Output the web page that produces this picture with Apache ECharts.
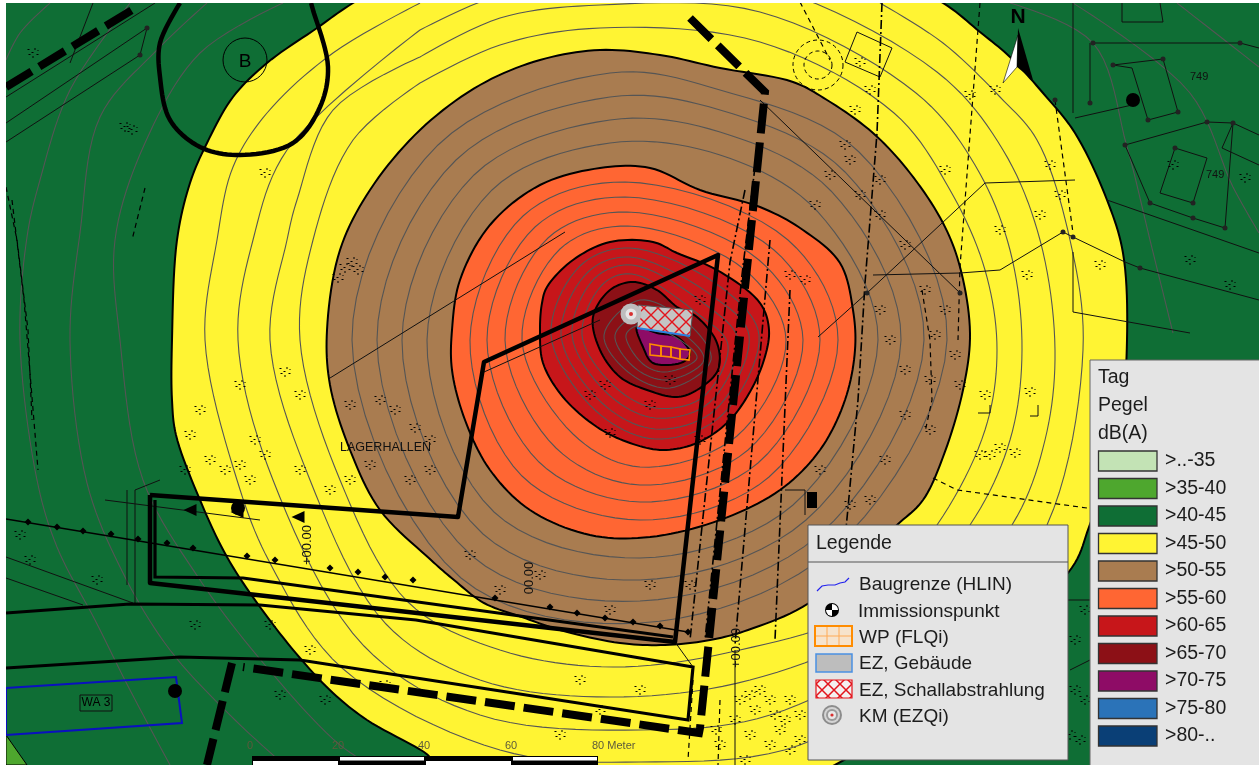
<!DOCTYPE html>
<html><head><meta charset="utf-8">
<style>html,body{margin:0;padding:0;background:#fff}#c{width:1259px;height:765px}</style>
<script src="https://cdn.jsdelivr.net/npm/echarts@6/dist/echarts.min.js"></script>
</head><body><div id="c"></div>
<script>
// ---- level bands (map coordinates) ----
const band40 = [[6,3],[1259,3],[1259,765],[6,765]];
const band35 = [[6,735],[27,765],[6,765]];
const band45 = [[353,3],[450,-50],[650,-70],[850,-40],[943,3],[980,32],[1010,57],[1043,93],[1075,133],[1107,200],[1123,253],[1127,340],[1120,420],[1089,527],[1068,573],[835,765],[640,810],[440,765],[424,752],[367,720],[333,693],[300,658],[260,607],[227,557],[200,500],[176,435],[172,400],[172,340],[177,240],[190,183],[207,143],[233,97],[267,63],[317,28]];
const band50 = [[600,50],[660,55],[720,68],[793,82],[827,100],[873,133],[910,173],[943,223],[960,267],[970,333],[963,390],[943,457],[923,500],[897,525],[809,603],[748,630],[710,640],[665,645],[620,643],[560,630],[522,617],[484,603],[454,580],[431,560],[380,510],[350,450],[330,385],[327,330],[340,250],[370,190],[420,130],[480,85],[540,60]];
const band55 = [[600,168],[650,168],[700,190],[760,207],[803,230],[840,263],[853,310],[855,350],[845,400],[820,450],[780,490],[720,520],[650,537],[590,535],[530,510],[490,470],[465,420],[452,370],[452,330],[460,280],[490,225],[540,185]];
const band60 = [[547,287],[573,260],[610,242],[653,242],[677,253],[717,270],[760,303],[769,330],[763,363],[747,397],[727,423],[697,443],[663,450],[630,443],[597,427],[563,397],[543,363],[540,330],[542,303]];
const band65 = [[593,317],[610,290],[633,282],[657,290],[677,307],[697,317],[717,343],[718,370],[697,390],[677,397],[647,390],[620,377],[600,350]];
const band70 = [[637,327],[643,347],[653,363],[683,362],[690,353],[677,337],[657,333]];
// ---- one-level isolines ----
const isoInner = [
 [[610,73],[720,90],[859,152],[947,340],[832,550],[640,623],[461,578],[352,340],[438,145]],
 [[610,97],[720,110],[845,172],[924,340],[819,535],[640,601],[472,556],[377,340],[456,160]],
 [[610,120],[720,132],[831,191],[901,340],[806,520],[640,580],[483,534],[402,340],[474,175]],
 [[610,143],[720,155],[817,211],[878,340],[793,505],[640,558],[494,512],[427,340],[492,190]],
 [[625,182],[788,240],[838,340],[769,477],[640,520],[522,476],[470,340],[523,216]],
 [[625,197],[774,250],[820,340],[758,463],[640,502],[539,462],[487,340],[535,227]],
 [[627,212],[759,260],[803,340],[748,450],[640,485],[556,448],[505,340],[548,238]],
 [[628,226],[745,270],[786,340],[737,436],[640,467],[573,434],[522,340],[560,249]],
 [[630,248],[722,288],[759,335],[721,416],[655,439],[596,411],[551,335],[580,266]],
 [[630,257],[714,297],[749,335],[715,410],[655,429],[602,403],[561,335],[588,272]],
 [[632,265],[706,305],[738,340],[709,403],[655,418],[608,394],[572,335],[595,278]],
 [[632,274],[698,314],[728,345],[703,397],[655,408],[614,386],[582,335],[603,284]],
 [[640,300],[690,325],[711,360],[670,388],[628,372],[604,335]],
 [[640,315],[685,335],[704,360],[668,380],[635,368],[615,335]],
 [[640,325],[680,340],[697,358],[665,372],[643,364],[626,335]]
];
const isoOpen = [
 [[420,83],[500,45],[600,28],[760,42],[894,113],[950,190],[985,270],[997,350],[985,430],[937,525],[860,610],[740,650],[613,667],[500,650],[408,602],[340,480],[300,340],[313,240],[353,140],[420,83]],
 [[420,57],[500,18],[600,5],[760,12],[916,93],[975,165],[1010,250],[1022,350],[1010,440],[970,525],[880,625],[750,680],[610,697],[480,680],[386,624],[310,480],[270,340],[287,240],[297,200],[333,110],[420,57]],
 [[420,30],[500,-5],[600,-18],[760,-15],[937,72],[1003,150],[1040,240],[1055,350],[1045,440],[1012,525],[910,640],[770,715],[640,730],[480,715],[364,646],[273,480],[238,340],[253,240],[287,150],[420,30]],
 [[420,3],[333,53],[267,113],[233,167],[217,240],[205,340],[237,480],[270,563],[342,668],[500,750],[640,762],[800,745],[960,640],[1047,525],[1083,350],[1070,240],[1037,140],[1000,97],[943,43],[880,3]],
 [[283,3],[200,53],[145,143],[115,240],[120,340],[143,480],[200,580],[265,665],[340,745],[380,770]],
 [[207,3],[157,50],[100,117],[80,233],[70,340],[87,483],[123,573],[170,650],[235,720],[290,770]],
 [[130,3],[70,90],[40,180],[27,237],[20,340],[37,480],[57,547],[95,620],[130,690],[170,765]],
 [[50,3],[20,33],[6,60]],
 [[1010,3],[1093,43],[1127,147],[1150,240],[1173,333]],
 [[1073,3],[1190,93],[1233,187],[1259,233]],
 [[1177,3],[1259,67]]
];
// ---- site plan linework ----
const heavyDashed = [
 [[6,87],[137,7]],
 [[690,18],[765,92],[700,728],[699,733],[243,667]],
 [[232,663],[207,765]]
];
const heavySolid = [
 [[150,495],[458,517],[484,362],[718,255],[675,642],[150,583],[150,495]]
];
const loopB = [[180,3],[160,43],[160,77],[170,120],[200,147],[240,155],[293,143],[320,107],[328,67],[313,10],[311,3]];
const mediumSolid = [
 [[6,613],[130,604],[260,605],[416,620],[693,667],[688,720],[300,660],[180,657],[6,668]],
 [[155,500],[155,577],[243,578],[673,637]]
];
const thinLines = [
 [[330,378],[565,232]],[[484,372],[600,320]],[[6,97],[155,3]],[[6,123],[147,28],[140,55],[6,142]],[[93,3],[70,63]],
 [[127,490],[127,585]],[[135,490],[135,603]],[[6,557],[133,603]],[[6,578],[83,605]],
 [[135,490],[160,480]],[[105,500],[260,520]],
 [[760,100],[960,293]],[[985,183],[1075,180]],[[985,183],[867,293],[818,337]],
 [[873,275],[960,273],[1000,270],[1063,232],[1073,237],[1125,262],[1140,268],[1259,300]],
 [[1073,252],[1073,312],[1190,333]],[[1107,200],[1259,253]],[[1073,3],[1073,113]],
 [[1093,43],[1240,43],[1259,48]],[[1090,43],[1090,103]],[[1075,118],[1132,105]],
 [[1113,65],[1163,59],[1178,112],[1148,120],[1132,68],[1113,65]],
 [[1125,145],[1207,122],[1233,123],[1259,135]],[[1233,123],[1222,148],[1259,165]],
 [[1175,148],[1160,193],[1193,203],[1207,158],[1175,148]],[[1125,145],[1150,203],[1193,218],[1225,228],[1233,123]],
 [[1122,3],[1122,22],[1163,22],[1160,3]],
 [[857,32],[892,48],[880,77],[845,62],[857,32]],
 [[675,642],[693,667]],[[735,650],[735,765]],[[785,490],[805,490],[805,515]],
 [[978,413],[990,413],[990,405]],[[1030,416],[1038,416],[1038,405]],
 [[1068,600],[1090,600]],[[1070,670],[1090,660]]
];
const dashedLines = [
 [[980,3],[960,267],[958,340]],[[1055,100],[1073,233]],[[933,478],[957,490],[1087,508]],
 [[145,188],[132,240]],[[6,187],[17,240],[28,330],[32,420]],[[12,200],[24,300],[38,470]],
 [[800,2],[830,60]],[[693,680],[688,760]],[[720,700],[718,765]],
 [[922,290],[930,340],[932,400],[925,432]]
];
const dashDotLines = [
 [[882,3],[877,133],[865,283],[858,400],[845,540]],
 [[745,190],[730,262],[690,640]],[[757,150],[742,275],[705,640]],[[770,240],[735,645]],
 [[790,290],[775,640]]
];
const chainPts = [[28,522],[57,527],[83,531],[111,534],[138,539],[167,543],[193,548],[247,556],[275,560],[330,568],[358,572],[385,577],[413,580],[495,598],[550,607],[577,613],[605,618],[633,622],[660,626],[688,632]];
const chainLine = [[6,519],[688,632]];
const nodePts = [[147,28],[140,55],[1093,43],[1240,43],[1090,103],[1113,65],[1163,59],[1178,112],[1148,120],[1125,145],[1207,122],[1233,123],[1175,148],[1193,203],[1150,203],[1193,218],[1225,228],[1140,268],[1063,232],[1073,237],[1055,100],[960,293],[867,293]];
const arrowPts = [[190,510],[237,512],[298,517]];
const blockPts = [[812,500]];
const specks = [[33,53],[125,127],[132,130],[265,173],[345,268],[352,262],[358,270],[338,278],[240,385],[285,372],[300,395],[350,405],[380,400],[395,410],[415,428],[430,440],[265,455],[255,440],[200,410],[190,435],[185,470],[210,460],[225,470],[240,465],[250,480],[300,470],[330,490],[350,480],[370,465],[410,480],[430,470],[30,560],[20,535],[97,580],[195,625],[270,625],[310,650],[280,695],[325,700],[385,685],[470,555],[500,590],[540,575],[610,610],[650,585],[690,585],[580,680],[640,690],[600,710],[560,735],[740,700],[750,695],[755,710],[760,690],[770,700],[775,715],[785,720],[790,700],[800,715],[735,720],[750,735],[770,745],[780,730],[790,750],[800,740],[720,745],[745,760],[716,730],[860,62],[870,90],[855,110],[850,160],[860,195],[880,215],[905,245],[945,170],[970,95],[995,90],[1050,165],[1060,195],[1100,265],[1040,215],[1000,230],[1027,275],[960,385],[985,395],[1030,392],[980,455],[990,455],[1000,448],[1015,453],[880,180],[845,145],[830,175],[815,205],[790,275],[805,280],[880,310],[890,340],[905,370],[925,290],[945,310],[935,335],[955,355],[930,380],[905,415],[930,430],[885,460],[870,500],[820,470],[850,505],[700,300],[605,385],[670,380],[650,405],[590,395],[610,433],[700,440],[1100,725],[1075,690],[1080,740],[1070,735],[1085,700],[1075,640],[1085,610],[1173,165],[1245,178],[1190,260],[1230,285]];
const scaleTicks = ['0','20','40','60','80 Meter'];
const levelLabels = ['>..-35','>35-40','>40-45','>45-50','>50-55','>55-60','>60-65','>65-70','>70-75','>75-80','>80-..'];
const legendItems = ['Baugrenze (HLIN)','Immissionspunkt','WP (FLQi)','EZ, Gebäude','EZ, Schallabstrahlung','KM (EZQi)'];
const building = [[638,305],[693,310],[690,336],[637,328]];
const buildingBlue = [[637,328],[690,336]];
const wpCells = [[[650,344],[661,346],[661,356],[650,355]],[[661,346],[671,347],[671,357],[661,356]],[[671,347],[680,349],[680,359],[671,357]],[[680,349],[690,350],[689,360],[680,359]]];
const kmPoint = [[631,314]];
const immission = [[1133,100],[238,508],[175,691]];
const northWhite = [[1018,35],[1003,83],[1017,67]];
const northBlack = [[1018,28],[1033,80],[1017,67]];
const blueRect = [[6,688],[176,677],[182,723],[6,735]];

// ---- styles ----
const C = ['#c3e3b5','#4ea72e','#0f6e35','#fff433','#a97c50','#ff6633','#c7161a','#8c1016','#8e0c66','#2b73b8','#0a3f76'];
const FONT = '"Liberation Sans", Arial, sans-serif';
const SPECK = 'path://M0 1h2v1h-2z M4 4h2v1h-2z M7 0h1v2h-1z M1 6h2v1h-2z M9 6h2v1h-2z M5 8h1v2h-1z M10 2h1v1h-1z';

function hatch(){
  const c = document.createElement('canvas'); c.width = 14; c.height = 14;
  const g = c.getContext('2d');
  g.fillStyle = '#c4c4c4'; g.fillRect(0,0,14,14);
  g.strokeStyle = '#e3141c'; g.lineWidth = 1.4;
  g.beginPath(); g.moveTo(0,0); g.lineTo(14,14); g.moveTo(14,0); g.lineTo(0,14); g.stroke();
  return {image:c, repeat:'repeat'};
}
function hatch2(){
  const c = document.createElement('canvas'); c.width = 12; c.height = 12;
  const g = c.getContext('2d');
  g.fillStyle = '#f4f0f0'; g.fillRect(0,0,12,12);
  g.strokeStyle = '#e3141c'; g.lineWidth = 1.5;
  g.beginPath(); g.moveTo(0,0); g.lineTo(12,12); g.moveTo(12,0); g.lineTo(0,12); g.stroke();
  return {image:c, repeat:'repeat'};
}
// curve through the given pixel points (same role as a line's "smooth")
function curve(P, closed){
  const n = P.length, out = [], segs = closed ? n : n-1;
  const at = i => closed ? P[(i+n)%n] : P[Math.max(0,Math.min(n-1,i))];
  const dist = (a,b)=>Math.sqrt(Math.hypot(a[0]-b[0],a[1]-b[1]))||1e-3;
  for(let i=0;i<segs;i++){
    const p0=at(i-1),p1=at(i),p2=at(i+1),p3=at(i+2);
    const d0=dist(p0,p1),d1=dist(p1,p2),d2=dist(p2,p3);
    const t=[0,1].map(k=>((p1[k]-p0[k])/d0-(p2[k]-p0[k])/(d0+d1)+(p2[k]-p1[k])/d1)*d1);
    const u=[0,1].map(k=>((p2[k]-p1[k])/d1-(p3[k]-p1[k])/(d1+d2)+(p3[k]-p2[k])/d2)*d1);
    for(let s=0;s<10;s++){
      const a=s/10,a2=a*a,a3=a2*a;
      out.push([0,1].map(k=>(2*a3-3*a2+1)*p1[k]+(a3-2*a2+a)*t[k]+(-2*a3+3*a2)*p2[k]+(a3-a2)*u[k]));
    }
  }
  if(!closed) out.push(P[n-1]);
  return out;
}
function shapes(list, type, style, smooth){
  return {type:'custom', coordinateSystem:'cartesian2d', clip:true, silent:true, animation:false, progressive:0,
    data:list.map((_,i)=>[i,i]),
    renderItem(p, api){
      let pts = list[p.dataIndex].map(q=>api.coord(q));
      if(smooth) pts = curve(pts, type==='polygon');
      const st = Object.assign({}, type==='polyline'?{fill:null}:{}, style);
      return {type, shape:{points:pts}, style:st};
    }};
}
const band = (pts,color)=>shapes([pts],'polygon',{fill:color,stroke:'#000',lineWidth:2},true);
const dots = (pts,symbol,size,color,rot)=>({type:'scatter',data:pts,symbol,symbolSize:size,symbolRotate:rot||0,silent:true,animation:false,itemStyle:{color,opacity:1},clip:true});

const series = [
  shapes([band40],'polygon',{fill:C[2]}),
  shapes([band35],'polygon',{fill:C[1],stroke:'#000',lineWidth:1}),
  band(band45,C[3]),
  band(band50,C[4]),
  band(band55,C[5]),
  band(band60,C[6]),
  band(band65,C[7]),
  band(band70,C[8]),
  shapes(isoOpen,'polyline',{stroke:'#555',lineWidth:1.1},true),
  shapes(isoInner,'polygon',{fill:'none',stroke:'#555',lineWidth:1.1},true),
  shapes(thinLines,'polyline',{stroke:'#111',lineWidth:1}),
  shapes(dashedLines,'polyline',{stroke:'#000',lineWidth:1.2,lineDash:[5,4]}),
  shapes(dashDotLines,'polyline',{stroke:'#000',lineWidth:1.6,lineDash:[9,3,2,3]}),
  shapes([chainLine],'polyline',{stroke:'#000',lineWidth:1.3}),
  dots(chainPts,'diamond',7,'#000'),
  dots(nodePts,'circle',5,'#222'),
  dots(specks,SPECK,[11,10],'#000'),
  dots(blockPts,'rect',[10,16],'#000'),
  dots(arrowPts,'triangle',[12,13],'#000',90),
  shapes(mediumSolid,'polyline',{stroke:'#000',lineWidth:3.2}),
  shapes([blueRect],'polygon',{fill:'none',stroke:'#0a10c0',lineWidth:2}),
  shapes([building],'polygon',{fill:hatch(),stroke:'#555',lineWidth:1}),
  shapes([buildingBlue],'polyline',{stroke:'#2a80e0',lineWidth:2}),
  shapes(wpCells,'polygon',{fill:'none',stroke:'#ff8c00',lineWidth:1.6}),
  dots(kmPoint,'circle',21,'#bdbdbd'),
  dots(kmPoint,'circle',11,'#e6e6e6'),
  dots(kmPoint,'circle',4,'#d83030'),
  shapes(heavySolid,'polyline',{stroke:'#000',lineWidth:4.5,lineJoin:'round'}),
  shapes([loopB],'polyline',{stroke:'#000',lineWidth:4.5,lineJoin:'round'},true),
  shapes(heavyDashed,'polyline',{stroke:'#000',lineWidth:8,lineDash:[30,9]}),
  dots(immission,'circle',14,'#000'),
  shapes([northWhite],'polygon',{fill:'#fff',stroke:'#000',lineWidth:0.6}),
  shapes([northBlack],'polygon',{fill:'#000'})
];

// ---- overlay text, scale bar, legends ----
const g = [];
const Z = 100;
const txt = (x,y,text,size,extra)=>g.push(Object.assign({type:'text',x,y,z:Z,style:Object.assign({text,font:size+'px '+FONT,fill:'#1c1c1c',textVerticalAlign:'middle'},extra||{})}));
const rect = (x,y,w,h,fill,stroke,lw)=>g.push({type:'rect',z:Z,shape:{x,y,width:w,height:h},style:{fill,stroke:stroke||null,lineWidth:lw||1}});

txt(1018,17,'N',21,{font:'bold 21px '+FONT,fill:'#000',textAlign:'center'});
txt(245,62,'B',19,{fill:'#000',textAlign:'center'});
g.push({type:'circle',z:Z,shape:{cx:245,cy:60,r:22},style:{fill:'none',stroke:'#000',lineWidth:1}});
g.push({type:'circle',z:Z,shape:{cx:818,cy:65,r:25},style:{fill:'none',stroke:'#000',lineWidth:1,lineDash:[4,3]}});
g.push({type:'circle',z:Z,shape:{cx:818,cy:65,r:14},style:{fill:'none',stroke:'#000',lineWidth:1,lineDash:[4,3]}});
txt(340,448,'LAGERHALLEN',12.5,{fill:'#111'});
txt(1190,77,'749',11,{fill:'#111'});
txt(1206,175,'749',11,{fill:'#111'});
rect(80,695,32,16,'none','#111',1);
txt(96,703,'WA 3',12,{textAlign:'center',fill:'#000'});
g.push({type:'text',x:307,y:545,rotation:Math.PI/2,z:Z,style:{text:'+00.00',font:'13px '+FONT,fill:'#111',textAlign:'center',textVerticalAlign:'middle'}});
g.push({type:'text',x:529,y:578,rotation:Math.PI/2,z:Z,style:{text:'00.00',font:'13px '+FONT,fill:'#111',textAlign:'center',textVerticalAlign:'middle'}});
g.push({type:'text',x:736,y:648,rotation:Math.PI/2,z:Z,style:{text:'+00.00',font:'13px '+FONT,fill:'#111',textAlign:'center',textVerticalAlign:'middle'}});

// scale bar
const barX = [252,339,425,512,598];
rect(252,756,346,9,'#000');
for(let i=0;i<4;i++){
  if(i%2) rect(barX[i]+1,757,barX[i+1]-barX[i]-2,3.5,'#fff');
  else rect(barX[i]+1,761,barX[i+1]-barX[i]-2,4,'#fff');
}
const tickX = [250,338,424,511,592];
scaleTicks.forEach((t,i)=>txt(tickX[i],746,t,11,{textAlign:i<4?'center':'left',fill:'#5c5a3c'}));

// level legend
rect(1090,360,175,410,'#e4e4e4','#666',1);
txt(1098,378,'Tag',19.5); txt(1098,406,'Pegel',19.5); txt(1098,434,'dB(A)',19.5);
levelLabels.forEach((t,i)=>{
  const y = 451+27.5*i;
  rect(1098.5,y,58.5,20,C[i],'#333',1.3);
  txt(1165,y+10,t,19.5);
});

// symbol legend
rect(808,525,260,235,'#e4e4e4','#555',1);
g.push({type:'line',z:Z,shape:{x1:808,y1:562,x2:1068,y2:562},style:{stroke:'#555',lineWidth:1}});
txt(816,544,'Legende',19.5);
const itemY = [585,612,638,664,691,717];
legendItems.forEach((t,i)=>txt(i===1?858:859,itemY[i],t,19));
g.push({type:'polyline',z:Z,shape:{points:[[817,591],[822,586],[828,585],[835,585],[840,583],[845,582],[849,578]]},style:{stroke:'#2222ee',lineWidth:1.2,fill:null}});
g.push({type:'circle',z:Z,shape:{cx:832,cy:610,r:7},style:{fill:'#000'}});
g.push({type:'sector',z:Z,shape:{cx:832,cy:610,r:6,r0:0,startAngle:-Math.PI/2,endAngle:0},style:{fill:'#fff'}});
g.push({type:'sector',z:Z,shape:{cx:832,cy:610,r:6,r0:0,startAngle:Math.PI/2,endAngle:Math.PI},style:{fill:'#fff'}});
rect(815,626,37,20,'#f6e3cc','#ff8c00',2);
[827,839].forEach(x=>g.push({type:'line',z:Z,shape:{x1:x,y1:627,x2:x,y2:645},style:{stroke:'#ffaa55',lineWidth:1}}));
g.push({type:'line',z:Z,shape:{x1:816,y1:636,x2:851,y2:636},style:{stroke:'#ffaa55',lineWidth:1}});
rect(816,654,36,18,'#bdbdbd','#4a90e2',1.5);
rect(816,680,36,18,hatch2(),'#e3141c',1.2);
[[10,'#8c8c8c'],[8,'#d4d4d4'],[6,'#9a9a9a'],[4,'#e8e8e8'],[1.6,'#d83030']].forEach(a=>
  g.push({type:'circle',z:Z,shape:{cx:832,cy:715,r:a[0]},style:{fill:a[1]}}));

const chart = echarts.init(document.getElementById('c'),null,{renderer:'canvas'});
chart.setOption({
  animation:false,
  backgroundColor:'#fff',
  grid:{left:6,right:0,top:3,bottom:0,containLabel:false},
  xAxis:{type:'value',min:6,max:1259,show:false},
  yAxis:{type:'value',min:3,max:765,inverse:true,show:false},
  tooltip:{show:false},
  series,
  graphic:{elements:g}
});
</script></body></html>
